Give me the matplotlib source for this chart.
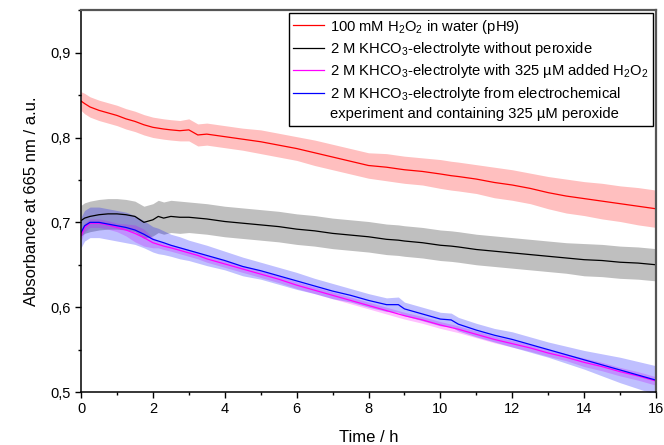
import matplotlib
matplotlib.use("Agg")
import matplotlib.pyplot as plt
from matplotlib.ticker import MultipleLocator, FuncFormatter
from matplotlib.lines import Line2D

plt.rcParams['font.family'] = ['Liberation Sans', 'DejaVu Sans']
plt.rcParams['mathtext.fontset'] = 'custom'
plt.rcParams['mathtext.rm'] = 'Liberation Sans'
plt.rcParams['mathtext.default'] = 'regular'

# time axis shared by all curves (h)
time_h = [0, 0.1, 0.25, 0.5, 0.75, 1, 1.25, 1.5, 1.75, 2, 2.15, 2.3, 2.5, 2.75,
          3, 3.25, 3.5, 4, 4.5, 5, 5.5, 6, 6.5, 7, 7.5, 8, 8.5, 8.83, 9, 9.5,
          10, 10.3, 10.5, 11, 11.5, 12, 12.5, 13, 13.5, 14, 14.5, 15, 15.5, 16]

# 100 mM H2O2 in water
red_mean = [0.843, 0.840, 0.836, 0.832, 0.829, 0.826, 0.822, 0.819, 0.815, 0.812,
            0.811, 0.810, 0.809, 0.808, 0.809, 0.803, 0.804, 0.801, 0.798, 0.795,
            0.791, 0.787, 0.782, 0.777, 0.772, 0.767, 0.765, 0.763, 0.762, 0.760,
            0.757, 0.755, 0.754, 0.751, 0.747, 0.744, 0.740, 0.735, 0.731, 0.728,
            0.725, 0.722, 0.719, 0.716]
red_sd = [0.011, 0.012, 0.012, 0.012, 0.012, 0.012, 0.012, 0.012, 0.012, 0.012,
          0.012, 0.012, 0.012, 0.012, 0.013, 0.013, 0.013, 0.013, 0.013, 0.014,
          0.014, 0.014, 0.015, 0.015, 0.015, 0.015, 0.016, 0.016, 0.016, 0.016,
          0.017, 0.017, 0.017, 0.017, 0.018, 0.018, 0.018, 0.019, 0.020, 0.020,
          0.021, 0.021, 0.022, 0.022]

# 2 M KHCO3 without peroxide
black_mean = [0.702, 0.705, 0.707, 0.709, 0.710, 0.710, 0.709, 0.707, 0.700, 0.703,
              0.707, 0.705, 0.707, 0.706, 0.706, 0.705, 0.704, 0.701, 0.699, 0.697,
              0.695, 0.692, 0.690, 0.687, 0.685, 0.683, 0.680, 0.679, 0.678, 0.676,
              0.673, 0.672, 0.671, 0.668, 0.666, 0.664, 0.662, 0.660, 0.658, 0.656,
              0.655, 0.653, 0.652, 0.650]
black_sd = [0.018, 0.018, 0.018, 0.018, 0.018, 0.018, 0.018, 0.018, 0.019, 0.019,
            0.019, 0.019, 0.019, 0.019, 0.018, 0.018, 0.018, 0.018, 0.018, 0.018,
            0.018, 0.018, 0.018, 0.018, 0.018, 0.018, 0.018, 0.018, 0.018, 0.018,
            0.018, 0.018, 0.018, 0.018, 0.018, 0.018, 0.018, 0.018, 0.018, 0.019,
            0.019, 0.019, 0.019, 0.019]

# 2 M KHCO3 with 325 uM added H2O2
mag_mean = [0.684, 0.694, 0.699, 0.699, 0.697, 0.694, 0.691, 0.687, 0.682, 0.676,
            0.674, 0.672, 0.670, 0.667, 0.664, 0.661, 0.657, 0.651, 0.645, 0.639,
            0.633, 0.626, 0.620, 0.614, 0.608, 0.602, 0.596, 0.592, 0.590, 0.585,
            0.579, 0.576, 0.574, 0.568, 0.562, 0.557, 0.552, 0.546, 0.541, 0.535,
            0.530, 0.524, 0.519, 0.513]
mag_sd = [0.006, 0.005, 0.005, 0.005, 0.005, 0.005, 0.007, 0.010, 0.010, 0.006,
          0.004, 0.004, 0.004, 0.004, 0.004, 0.004, 0.004, 0.004, 0.004, 0.004,
          0.004, 0.004, 0.004, 0.004, 0.004, 0.004, 0.004, 0.004, 0.004, 0.004,
          0.004, 0.004, 0.004, 0.004, 0.004, 0.004, 0.004, 0.004, 0.004, 0.005,
          0.005, 0.005, 0.005, 0.005]

# 2 M KHCO3 from electrochemical experiment
blue_mean = [0.688, 0.696, 0.700, 0.700, 0.698, 0.696, 0.694, 0.691, 0.686, 0.680,
             0.678, 0.676, 0.673, 0.670, 0.667, 0.664, 0.661, 0.655, 0.648, 0.643,
             0.637, 0.631, 0.625, 0.619, 0.614, 0.608, 0.603, 0.603, 0.598, 0.592,
             0.586, 0.585, 0.580, 0.573, 0.567, 0.562, 0.556, 0.550, 0.544, 0.538,
             0.532, 0.526, 0.520, 0.514]
blue_sd = [0.018, 0.018, 0.018, 0.018, 0.018, 0.018, 0.018, 0.017, 0.016, 0.015,
           0.015, 0.014, 0.013, 0.013, 0.012, 0.012, 0.012, 0.011, 0.011, 0.010,
           0.010, 0.010, 0.009, 0.009, 0.008, 0.008, 0.008, 0.009, 0.008, 0.008,
           0.008, 0.008, 0.008, 0.008, 0.008, 0.009, 0.009, 0.009, 0.010, 0.011,
           0.013, 0.015, 0.016, 0.017]

labels = [
    '100 mM H$_2$O$_2$ in water (pH9)',
    '2 M KHCO$_3$-electrolyte without peroxide',
    '2 M KHCO$_3$-electrolyte with 325 µM added H$_2$O$_2$',
    '2 M KHCO$_3$-electrolyte from electrochemical',
]
label_cont = 'experiment and containing 325 µM peroxide'
colors = ['#ff0000', '#000000', '#ff00ff', '#0000ff']
means = [red_mean, black_mean, mag_mean, blue_mean]
sds = [red_sd, black_sd, mag_sd, blue_sd]

fig = plt.figure(figsize=(6.64, 4.45), dpi=100)
ax = fig.add_axes([0.122, 0.119, 0.866, 0.858])

handles = []
for m, s, c, lab in zip(means, sds, colors, labels):
    lo = [a - b for a, b in zip(m, s)]
    hi = [a + b for a, b in zip(m, s)]
    ax.fill_between(time_h, lo, hi, color=c, alpha=0.25, lw=0)
    h, = ax.plot(time_h, m, color=c, lw=0.9, label=lab)
    handles.append(h)

# second line of the last legend entry, without a handle
handles.append(Line2D([], [], color='none'))
all_labels = labels + [label_cont]

ax.set_xlim(0, 16)
ax.set_ylim(0.5, 0.95)
ax.xaxis.set_major_locator(MultipleLocator(2))
ax.xaxis.set_minor_locator(MultipleLocator(1))
ax.yaxis.set_major_locator(MultipleLocator(0.1))
ax.yaxis.set_minor_locator(MultipleLocator(0.05))
ax.yaxis.set_major_formatter(FuncFormatter(lambda v, p: f'{v:.1f}'.replace('.', ',')))
ax.tick_params(which='both', direction='out', top=False, right=False, labelsize=10.5)
ax.tick_params(which='major', length=4, width=1)
ax.tick_params(which='minor', length=2.5, width=1)

for side in ['left', 'bottom']:
    ax.spines[side].set_linewidth(1.1)
for side in ['top', 'right']:
    ax.spines[side].set_linewidth(1.6)
    ax.spines[side].set_color('#555555')

ax.set_xlabel('Time / h', fontsize=12, labelpad=10)
ax.set_ylabel('Absorbance at 665 nm / a.u.', fontsize=12, labelpad=8)

leg = ax.legend(handles, all_labels, loc='upper right', bbox_to_anchor=(1, 1),
                borderaxespad=0.2, fontsize=10.6, fancybox=False, framealpha=1,
                edgecolor='black', handlelength=2.1, handletextpad=0.4,
                labelspacing=0.3, borderpad=0.3)
leg.get_frame().set_linewidth(1.0)

fig.savefig('out.png', dpi=100)
